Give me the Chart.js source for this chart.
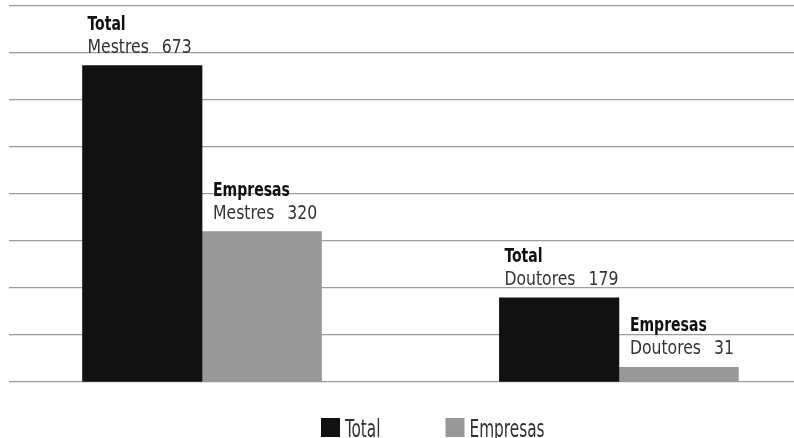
<!DOCTYPE html>
<html>
<head>
<meta charset="utf-8">
<script src="https://cdn.jsdelivr.net/npm/chart.js@4.4.1/dist/chart.umd.min.js"></script>
<style>
  html, body { margin: 0; padding: 0; background: #fff; }
</style>
</head>
<body>
<canvas id="myChart" width="794" height="438"></canvas>
<script>
const categories = ['Mestres', 'Doutores'];
const seriesNames = ['Total', 'Empresas'];
const totalValues = [673, 179];
const empresasValues = [320, 31];
const yMax = 800;
const yStep = 100;

const seriesValues = [totalValues, empresasValues];
const seriesColors = ['rgb(17, 17, 17)', 'rgb(152, 152, 152)'];
const condensed = '"DejaVu Sans Condensed", "Liberation Sans Narrow", "Liberation Sans", sans-serif';

// draws text squeezed horizontally, returns drawn width
function narrowText(c, text, x, y, squeeze) {
    c.save();
    c.translate(x, y);
    c.scale(squeeze, 1);
    c.fillText(text, 0, 0);
    c.restore();
    return c.measureText(text).width * squeeze;
}

// labels above each bar: bold series name, then category and value
const barLabels = {
    id: 'barLabels',
    afterDatasetsDraw(chart) {
        const c = chart.ctx;
        chart.data.datasets.forEach((ds, i) => {
            chart.getDatasetMeta(i).data.forEach((bar, j) => {
                const left = bar.x - bar.width / 2 + (i === 0 ? 5 : 11);
                c.save();
                c.textAlign = 'left';
                c.textBaseline = 'alphabetic';
                c.fillStyle = '#111';
                c.font = 'bold 20px ' + condensed;
                narrowText(c, ds.label, left, bar.y - 36, 0.78);
                c.fillStyle = '#333';
                c.font = '20px ' + condensed;
                const w = narrowText(c, categories[j], left, bar.y - 13, 0.87);
                narrowText(c, String(seriesValues[i][j]), left + w + 13, bar.y - 13, 0.87);
                c.restore();
            });
        });
    }
};

// legend drawn at the bottom
const bottomLegend = {
    id: 'bottomLegend',
    afterDraw(chart) {
        const c = chart.ctx;
        let x = 321;
        const y = 418;
        c.save();
        c.font = '24px ' + condensed;
        c.textBaseline = 'alphabetic';
        chart.data.datasets.forEach((ds) => {
            c.fillStyle = ds.backgroundColor;
            c.fillRect(x, y, 19, 19);
            c.fillStyle = '#333';
            const w = narrowText(c, ds.label, x + 24, y + 19, 0.71);
            x += 24 + w + 65;
        });
        c.restore();
    }
};

const ctx = document.getElementById('myChart');
const myChart = new Chart(ctx, {
    type: 'bar',
    data: {
        datasets: seriesNames.map((name, i) => ({
            label: name,
            data: seriesValues[i].map((v, j) => ({x: j, y: v})),
            backgroundColor: seriesColors[i],
            borderWidth: 0,
            barThickness: 119.5
        }))
    },
    options: {
        responsive: false,
        animation: false,
        layout: {
            padding: {left: 9, top: 6, right: 0, bottom: 56}
        },
        plugins: {
            legend: {display: false},
            tooltip: {enabled: false}
        },
        scales: {
            x: {
                type: 'linear',
                display: false,
                offset: false,
                min: -0.463,
                max: 1.42
            },
            y: {
                min: 0,
                max: yMax,
                ticks: {display: false, stepSize: yStep},
                border: {display: false},
                grid: {color: '#9c9c9c', lineWidth: 1.3, drawTicks: false}
            }
        }
    },
    plugins: [barLabels, bottomLegend]
});
</script>
</body>
</html>
